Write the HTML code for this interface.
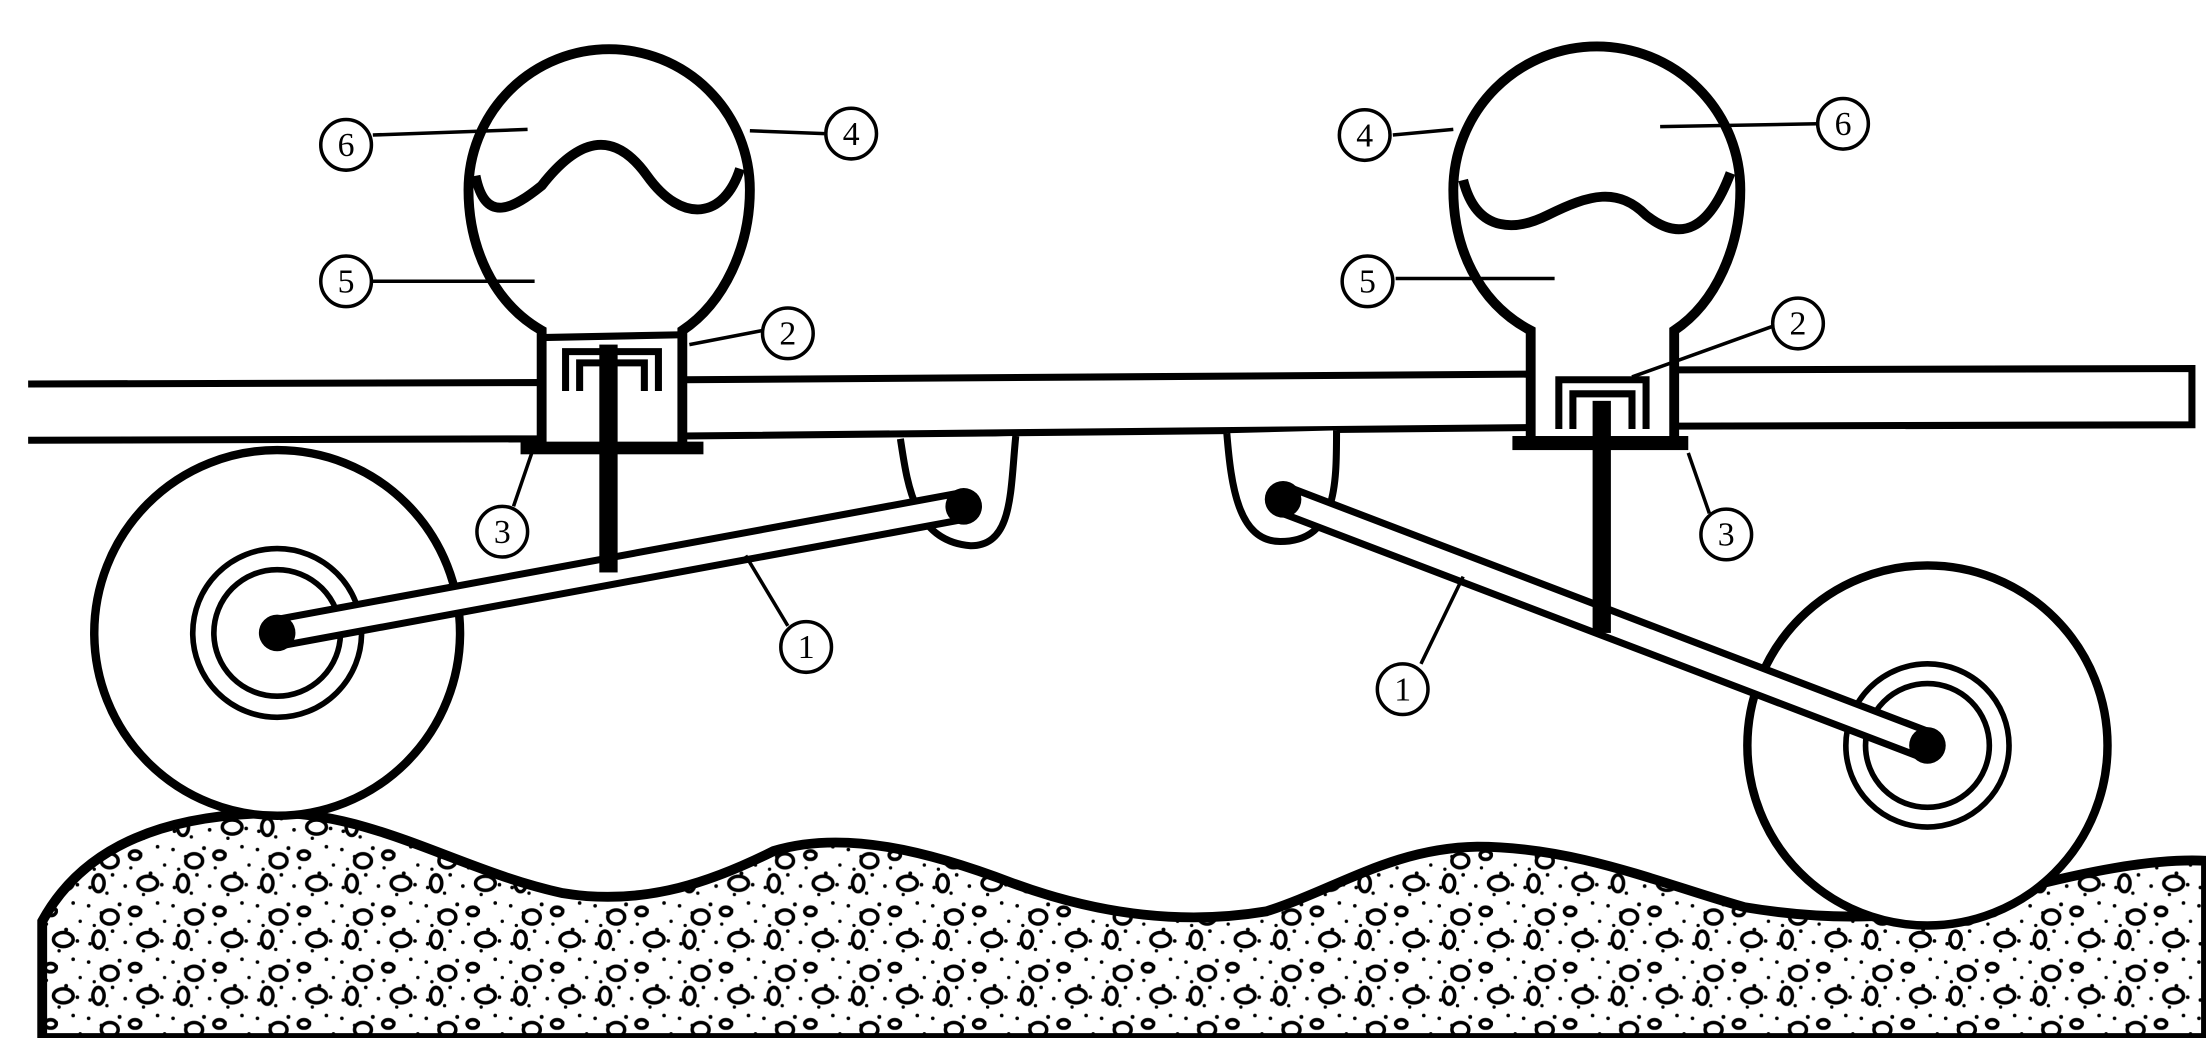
<!DOCTYPE html>
<html><head><meta charset="utf-8"><style>html,body{margin:0;padding:0;background:#fff}svg{display:block}</style></head>
<body>
<svg width="2206" height="1038" viewBox="0 0 1568 738" preserveAspectRatio="none" xmlns="http://www.w3.org/2000/svg">
<defs>
<pattern id="g" width="60" height="40" patternUnits="userSpaceOnUse">
<rect width="60" height="40" fill="#fff"/>
<g fill="#000">
<circle cx="3" cy="4" r="1.3"/><circle cx="12" cy="9" r="1.2"/><circle cx="25" cy="3" r="1.4"/><circle cx="40" cy="7" r="1.2"/><circle cx="52" cy="2" r="1.3"/>
<circle cx="7" cy="18" r="1.2"/><circle cx="20" cy="22" r="1.3"/><circle cx="33" cy="17" r="1.2"/><circle cx="47" cy="21" r="1.4"/><circle cx="57" cy="15" r="1.2"/>
<circle cx="4" cy="31" r="1.3"/><circle cx="16" cy="35" r="1.2"/><circle cx="29" cy="30" r="1.3"/><circle cx="42" cy="36" r="1.2"/><circle cx="55" cy="29" r="1.3"/>
</g>
<g fill="none" stroke="#000" stroke-width="2.5">
<ellipse cx="18" cy="12" rx="6" ry="5"/><ellipse cx="45" cy="28" rx="7" ry="5"/><ellipse cx="10" cy="28" rx="4" ry="6"/><ellipse cx="36" cy="8" rx="4" ry="3"/>
</g>
</pattern>
</defs>
<path d="M30,655 C60,600 120,578 200,578 C270,580 330,620 400,635 C460,645 510,625 550,605 C600,590 660,605 720,628 C780,650 840,658 900,648 C950,632 990,603 1050,602 C1120,602 1180,628 1240,645 C1300,655 1360,655 1420,636 C1480,620 1530,610 1568,612 L1568,738 L30,738 Z" fill="url(#g)" stroke="#000" stroke-width="7"/>
<g stroke="#000" stroke-width="5" fill="none">
<path d="M20,273 L385,272 M485,270 L1088,266 M1192,263 L1558,262 L1558,302 L1192,303 M1088,304 L485,310 M385,312 L20,313"/>
</g>
<path d="M640,312 C645,345 650,385 690,388 C720,388 718,350 722,310" fill="#fff" stroke="#000" stroke-width="5"/>
<path d="M872,308 C875,345 880,385 910,385 C950,385 950,345 950,306" fill="#fff" stroke="#000" stroke-width="5"/>
<g fill="#fff" stroke="#000" stroke-width="6">
<circle cx="197" cy="450" r="130"/><circle cx="197" cy="450" r="60" stroke-width="4"/><circle cx="197" cy="450" r="45" stroke-width="4"/>
<circle cx="1370" cy="530" r="128"/><circle cx="1370" cy="530" r="58" stroke-width="4"/><circle cx="1370" cy="530" r="44" stroke-width="4"/>
</g>
<g stroke-linecap="round">
<line x1="197" y1="450" x2="683" y2="360" stroke="#000" stroke-width="24"/>
<line x1="197" y1="450" x2="683" y2="360" stroke="#fff" stroke-width="14"/>
<line x1="912" y1="355" x2="1370" y2="530" stroke="#000" stroke-width="24"/>
<line x1="912" y1="355" x2="1370" y2="530" stroke="#fff" stroke-width="14"/>
</g>
<circle cx="197" cy="450" r="13"/><circle cx="685" cy="360" r="13"/>
<circle cx="1370" cy="530" r="13"/><circle cx="912" cy="355" r="13"/>
<path d="M385,320 L385,235 C350,215 333,175 333,135 A100,100 0 1 1 533,135 C533,175 515,215 485,235 L485,320" fill="#fff" stroke="#000" stroke-width="7"/>
<path d="M338,125 C345,160 365,148 385,132 C410,100 435,90 460,125 C485,160 515,155 526,120" fill="none" stroke="#000" stroke-width="7"/>
<path d="M385,240 L485,238" stroke="#000" stroke-width="5"/>
<path d="M402,278 L402,250 L468,250 L468,278 M412,278 L412,258 L458,258 L458,278" fill="none" stroke="#000" stroke-width="5"/>
<rect x="426" y="245" width="13" height="162"/>
<rect x="370" y="314" width="130" height="9"/>
<path d="M1088,318 L1088,235 C1050,215 1033,175 1033,135 A102,102 0 1 1 1237,135 C1237,175 1220,215 1190,235 L1190,318" fill="#fff" stroke="#000" stroke-width="7"/>
<path d="M1040,128 C1050,168 1080,163 1100,153 C1130,138 1150,133 1170,153 C1195,173 1215,163 1230,123" fill="none" stroke="#000" stroke-width="7"/>
<path d="M1108,305 L1108,270 L1170,270 L1170,305 M1118,305 L1118,280 L1160,280 L1160,305" fill="none" stroke="#000" stroke-width="5"/>
<rect x="1132" y="285" width="13" height="165"/>
<rect x="1075" y="310" width="125" height="10"/>
<g stroke="#000" stroke-width="2.5">
<line x1="265" y1="96" x2="375" y2="92"/><line x1="533" y1="93" x2="586" y2="95"/>
<line x1="265" y1="200" x2="380" y2="200"/><line x1="490" y1="245" x2="542" y2="235"/>
<line x1="365" y1="360" x2="378" y2="322"/><line x1="530" y1="395" x2="560" y2="445"/>
<line x1="990" y1="96" x2="1033" y2="92"/><line x1="1180" y1="90" x2="1292" y2="88"/>
<line x1="992" y1="198" x2="1105" y2="198"/><line x1="1160" y1="268" x2="1260" y2="232"/>
<line x1="1215" y1="365" x2="1200" y2="322"/><line x1="1010" y1="472" x2="1040" y2="410"/>
</g>
<g font-family="Liberation Serif, serif" font-size="24" text-anchor="middle">
<g fill="#fff" stroke="#000" stroke-width="2.5">
<circle cx="246" cy="103" r="18"/><circle cx="605" cy="95" r="18"/><circle cx="246" cy="200" r="18"/><circle cx="560" cy="237" r="18"/><circle cx="357" cy="378" r="18"/><circle cx="573" cy="460" r="18"/>
<circle cx="970" cy="96" r="18"/><circle cx="1310" cy="88" r="18"/><circle cx="972" cy="200" r="18"/><circle cx="1278" cy="230" r="18"/><circle cx="1227" cy="380" r="18"/><circle cx="997" cy="490" r="18"/>
</g>
<text x="246" y="111">6</text><text x="605" y="103">4</text><text x="246" y="208">5</text><text x="560" y="245">2</text><text x="357" y="386">3</text><text x="573" y="468">1</text>
<text x="970" y="104">4</text><text x="1310" y="96">6</text><text x="972" y="208">5</text><text x="1278" y="238">2</text><text x="1227" y="388">3</text><text x="997" y="498">1</text>
</g>
</svg>
</body></html>
